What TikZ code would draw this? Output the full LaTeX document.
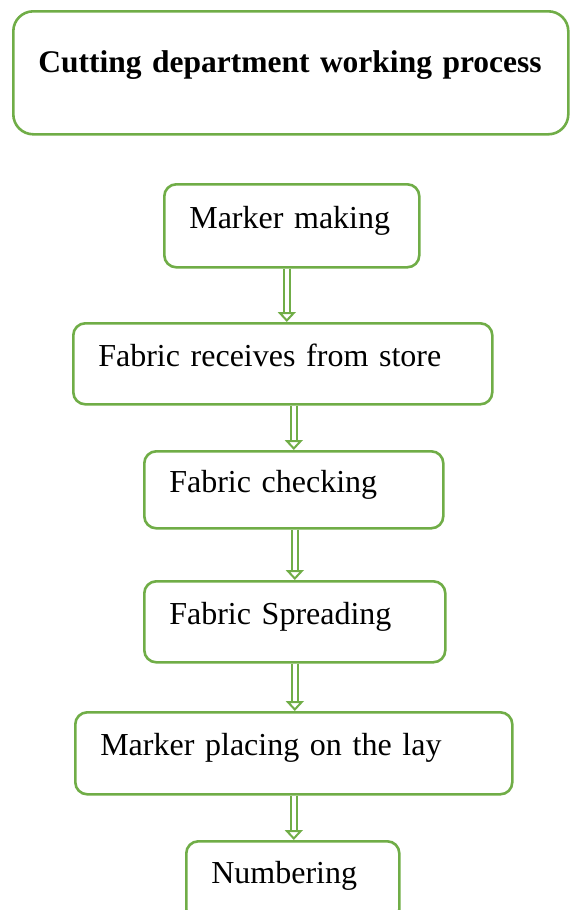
\documentclass[tikz,border=0pt]{standalone}
\usepackage{fontspec}
\setmainfont{Liberation Serif}
\usepackage{tikz}
\usetikzlibrary{positioning,arrows.meta}
\definecolor{flowgreen}{HTML}{70AD47}

\begin{document}
\begin{tikzpicture}[
  x=1pt, y=-1pt,
  font=\fontsize{32}{37}\selectfont,
  step box/.style={draw=flowgreen, line width=2.6pt, rounded corners=12pt, anchor=north west,
    inner xsep=25pt, inner ysep=0pt, align=left, text depth=17pt},
  head box/.style={step box, rounded corners=20pt, text depth=22pt, font=\fontsize{31.5}{37}\selectfont\bfseries},
  dbl/.style={draw=flowgreen, line width=2pt, double=white, double distance=4pt,
    -{Triangle[open, length=10pt, width=18pt, line width=2pt]}}
]
\useasboundingbox (0,0) rectangle (571,910);

\node[head box, text width=505pt, minimum width=555pt, minimum height=123pt] (hd) at (12,10)
  {\mbox{Cutting department working process}\\ \strut};

\node[step box, text width=205pt, minimum width=255pt, minimum height=83pt] (mk) at (163,183) {Marker making};
\node[step box, text width=369pt, minimum width=419pt, minimum height=81pt] (fr) at (72,322) {Fabric receives from store};
\node[step box, text width=249pt, minimum width=299pt, minimum height=77pt] (fc) at (143,450) {Fabric checking};
\node[step box, text width=251pt, minimum width=301pt, minimum height=81pt] (fs) at (143,580) {Fabric Spreading};
\node[step box, text width=387pt, minimum width=437pt, minimum height=82pt] (mp) at (74,711) {Marker placing on the lay};
\node[step box, text width=163pt, minimum width=213pt, minimum height=80pt] (nb) at (185,840) {Numbering};

% hollow double arrows between the steps
\draw[dbl] ([xshift=-5pt]mk.south) -- ([xshift=-5pt]mk.south |- fr.north);
\draw[dbl] (fr.south -| fc.north) -- (fc.north);
\draw[dbl] (fc.south -| fs.north) -- (fs.north);
\draw[dbl] (fs.south) -- (fs.south |- mp.north);
\draw[dbl] (mp.south) -- (mp.south |- nb.north);
\end{tikzpicture}
\end{document}
